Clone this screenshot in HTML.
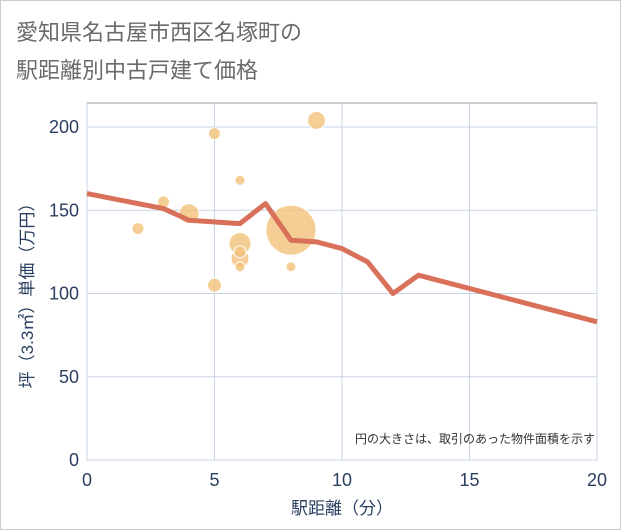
<!DOCTYPE html>
<html><head><meta charset="utf-8"><style>
body{margin:0;background:#fff;font-family:"Liberation Sans","Noto Sans CJK JP",sans-serif}
.frame{position:absolute;left:0;top:0;width:619px;height:528px;border:1px solid #ccc;background:#fff}
</style></head><body>
<div class="frame"></div>
<svg id="c" width="621" height="530" style="position:absolute;left:0;top:0">
<text x="16" y="40" font-size="22" fill="#6b6b6b" font-family="Liberation Sans,Noto Sans CJK JP,sans-serif">愛知県名古屋市西区名塚町の</text>
<text x="16" y="78" font-size="22" fill="#6b6b6b" font-family="Liberation Sans,Noto Sans CJK JP,sans-serif">駅距離別中古戸建て価格</text>
</svg>
<script>
const xTicks=[0,5,10,15,20];
const yTicks=[0,50,100,150,200];
const lineX=[0,3,4,6,7,8,9,10,11,12,13,20];
const lineY=[160,151,144,142,154,132,131,127,119,100,111,83];
const bubX=[2,3,4,5,5,6,6,6,6,6,8,8,9];
const bubY=[139,155,148,196,105,168,130,121,125,116,138,116,204];
const bubR=[6,6,10,6,7,5,11,9,6,5,25,5,9];
const svg=document.getElementById('c');const NS='http://www.w3.org/2000/svg';
const L=87,R=597,T=103,B=460;
const sx=v=>L+v*(R-L)/20, sy=v=>B-v*(B-127)/200;
function mk(t,a){const e=document.createElementNS(NS,t);for(const k in a)e.setAttribute(k,a[k]);svg.appendChild(e);return e;}
let bg=mk('rect',{x:L,y:T,width:R-L,height:B-T,fill:'#fff',stroke:'#999','stroke-width':1});


xTicks.forEach(v=>{let g=mk('line',{x1:sx(v),x2:sx(v),y1:T,y2:B,stroke:'#c8d4e3'});


let t=mk('text',{x:sx(v),y:486,'text-anchor':'middle','font-size':18,fill:'#2a3f5f'});t.textContent=v;

});
yTicks.forEach(v=>{let g=mk('line',{x1:L,x2:R,y1:sy(v),y2:sy(v),stroke:'#c8d4e3'});


let t=mk('text',{x:79,y:sy(v)+6,'text-anchor':'end','font-size':18,fill:'#2a3f5f'});t.textContent=v;

});
bubX.forEach((x,i)=>{let c=mk('circle',{cx:sx(x),cy:sy(bubY[i]),r:bubR[i],fill:'#f3c27a','fill-opacity':0.8,stroke:'#fff','stroke-width':1});

});
let p=mk('polyline',{points:lineX.map((x,i)=>sx(x)+','+sy(lineY[i])).join(' '),fill:'none',stroke:'#d9705a','stroke-width':5,'stroke-linejoin':'round'});


let n=mk('text',{x:595,y:443,'text-anchor':'end','font-size':12,fill:'#333'});n.textContent='円の大きさは、取引のあった物件面積を示す';


let xt=mk('text',{x:sx(10),y:514,'text-anchor':'middle','font-size':17,fill:'#2a3f5f'});xt.textContent='駅距離（分）';


let yt=mk('text',{x:0,y:0,'text-anchor':'middle','font-size':17,fill:'#2a3f5f',transform:'translate(33,'+((T+B)/2+10)+') rotate(-90)'});yt.textContent='坪（3.3㎡）単価（万円）';


</script>
</body></html>
